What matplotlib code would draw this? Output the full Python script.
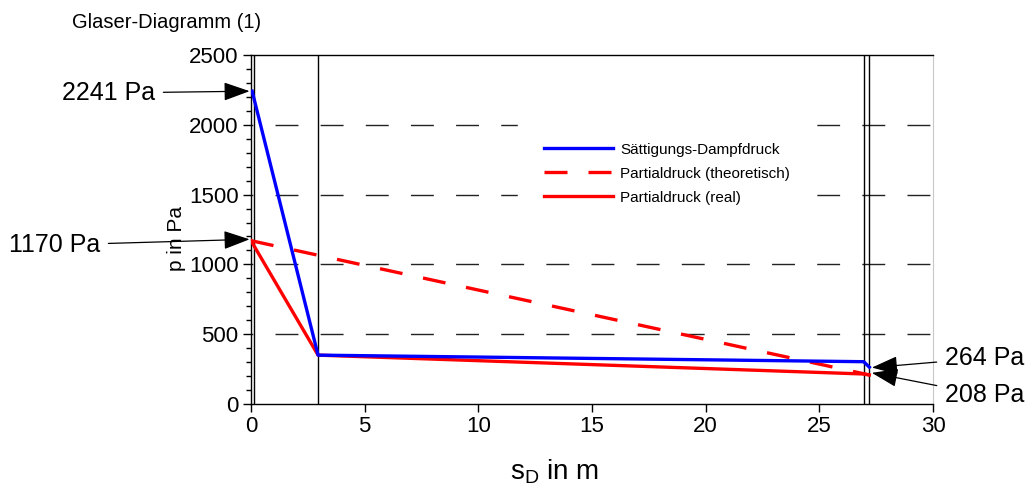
import matplotlib
matplotlib.use('Agg')
import matplotlib.pyplot as plt

plt.rcParams['font.family'] = ['Liberation Sans', 'DejaVu Sans']

# layer boundaries (s_D in m)
layer_bounds = [0.0, 0.15, 2.95, 26.95, 27.2]

# Sättigungs-Dampfdruck
sd_sat = [0.05, 2.95, 26.95, 27.2]
p_sat = [2241, 350, 303, 264]

# Partialdruck (theoretisch)
sd_theo = [0.0, 27.2]
p_theo = [1170, 208]

# Partialdruck (real)
sd_real = [0.0, 2.95, 26.95, 27.2]
p_real = [1170, 350, 215, 208]

grid_levels = [500, 1000, 1500, 2000]

# annotations: (text, x target, y target, text pos in figure pixels)
notes = [
    ('2241 Pa', 0.0, 2241, (155, 93), 'right'),
    ('1170 Pa', 0.0, 1180, (100, 245), 'right'),
    ('264 Pa', 27.25, 260, (945, 358), 'left'),
    ('208 Pa', 27.25, 225, (945, 395), 'left'),
]

W, H = 1030, 497
fig = plt.figure(figsize=(W / 100, H / 100), dpi=100)
ax = fig.add_axes([251 / W, 1 - 404 / H, (933 - 251) / W, (404 - 55) / H])

ax.set_xlim(0, 30)
ax.set_ylim(0, 2500)

# dashed horizontal grid
ax.hlines(grid_levels, 0, 30, colors='#222222', linewidth=1.0,
          linestyles=[(15.2, (16.5, 16))])

# layer boundaries
for xb in layer_bounds[1:]:
    ax.axvline(xb, color='black', linewidth=1.0)

ax.plot(sd_sat, p_sat, color='#0000ff', linewidth=2.4, label='Sättigungs-Dampfdruck', zorder=5)
ax.plot(sd_theo, p_theo, color='#ff0000', linewidth=2.4, dashes=(6.9, 6.3),
        label='Partialdruck (theoretisch)', zorder=4)
ax.plot(sd_real, p_real, color='#ff0000', linewidth=2.4, label='Partialdruck (real)', zorder=4)

for side in ['left', 'bottom', 'top']:
    ax.spines[side].set_color('black')
    ax.spines[side].set_linewidth(1.0)
ax.spines['right'].set_color('#c8c8c8')

ax.set_xticks([0, 5, 10, 15, 20, 25, 30])
ax.set_yticks([0, 500, 1000, 1500, 2000, 2500])
ax.set_yticks(range(0, 2501, 100), minor=True)
ax.tick_params(axis='both', which='major', direction='out', length=6, width=1,
               labelsize=16, pad=3)
ax.tick_params(axis='y', which='minor', direction='out', length=3.5, width=1)
ax.tick_params(top=False, right=False)

leg = ax.legend(loc='upper left', bbox_to_anchor=(0.381, 0.845), frameon=True,
                fontsize=11, handlelength=4.5, borderpad=1.7, labelspacing=0.65,
                handletextpad=0.45, fancybox=False)
leg.get_frame().set_edgecolor('white')
leg.get_frame().set_facecolor('white')
leg.get_frame().set_alpha(1.0)

for text, xt, yt, (px, py), ha in notes:
    ax.annotate(text, xy=(xt, yt), xycoords='data',
                xytext=(px / W, 1 - py / H), textcoords='figure fraction',
                ha=ha, va='center', fontsize=18,
                arrowprops=dict(arrowstyle='-|>,head_length=0.9,head_width=0.32',
                                color='black', lw=0.9, shrinkA=4, shrinkB=1),
                annotation_clip=False)

fig.text(72 / W, 1 - 22 / H, 'Glaser-Diagramm (1)', fontsize=14.5, ha='left', va='center')
fig.text(176 / W, 1 - 239 / H, 'p in Pa', fontsize=15, rotation=90, ha='center', va='center')
fig.text(555 / W, 1 - 472 / H, r'$\mathregular{s_D}$ in m', fontsize=20, ha='center', va='center')

fig.savefig('out.png', dpi=100)
